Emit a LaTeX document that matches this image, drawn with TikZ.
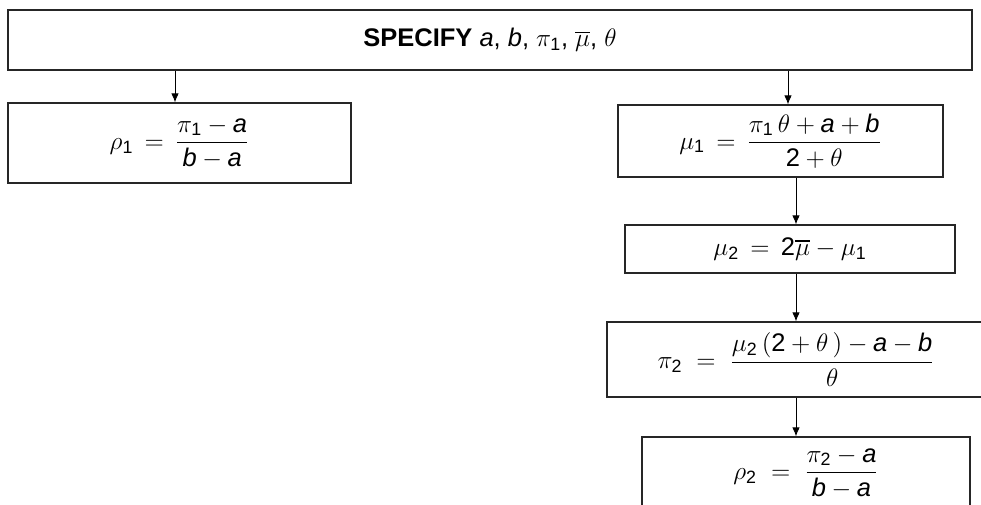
\documentclass[tikz,border=0pt]{standalone}
\usepackage{amsmath}
\usepackage{fontspec}
\setmainfont{Liberation Sans}
\usetikzlibrary{positioning}
\usetikzlibrary{arrows.meta}
\tikzset{
    stepbox/.style = {rectangle, draw=black!85, line width=0.7pt, inner sep=0pt, align=center},
    edgen/.style = {-{Latex[length=1.8mm,width=1.5mm]}, line width=0.5pt},
}
\newcommand{\va}{\text{\itshape a}}
\newcommand{\vb}{\text{\itshape b}}
\newcommand{\nm}[1]{\text{#1}}

\begin{document}
\begin{tikzpicture}[font=\fontsize{14.5}{17}\selectfont]
  \clip (0,0) rectangle (19.62,-10.1);

  % boxes
  \node[stepbox, minimum width=19.28cm, minimum height=1.2cm] at (9.8,-0.8) (spec)
    {\textbf{SPECIFY} $\va$, $\vb$, $\pi_{\nm{1}}$, $\overline{\mu}$, $\theta$};
  \node[stepbox, minimum width=6.86cm, minimum height=1.6cm] at (3.59,-2.86) (rho1)
    {$\displaystyle \rho_{\nm{1}} \,=\, \frac{\pi_{\nm{1}} - \va}{\vb - \va}$};
  \node[stepbox, minimum width=6.5cm, minimum height=1.44cm] at (15.61,-2.82) (mu1)
    {$\displaystyle \mu_{\nm{1}} \,=\, \frac{\pi_{\nm{1}}\,\theta + \va + \vb}{\nm{2} + \theta}$};
  \node[stepbox, minimum width=6.6cm, minimum height=0.96cm] at (15.8,-4.98) (mu2)
    {$\mu_{\nm{2}} \,=\, \nm{2}\overline{\mu} - \mu_{\nm{1}}$};
  \node[stepbox, minimum width=7.56cm, minimum height=1.5cm] at (15.92,-7.19) (pi2)
    {$\displaystyle \pi_{\nm{2}} \;=\; \frac{\mu_{\nm{2}}\,(\nm{2} + \theta\,) - \va - \vb}{\theta}$};
  \node[stepbox, minimum width=6.56cm, minimum height=1.44cm] at (16.12,-9.46) (rho2)
    {$\displaystyle \rho_{\nm{2}} \;=\; \frac{\pi_{\nm{2}} - \va}{\vb - \va}$};

  % arrow columns
  \coordinate (lc) at (3.5,0);
  \coordinate (rc) at (15.76,0);
  \coordinate (rd) at (15.92,0);

  \draw[edgen] (spec.south -| lc) -- (rho1.north -| lc);
  \draw[edgen] (spec.south -| rc) -- (mu1.north -| rc);
  \draw[edgen] (mu1.south -| rd) -- (mu2.north -| rd);
  \draw[edgen] (mu2.south -| rd) -- (pi2.north -| rd);
  \draw[edgen] (pi2.south -| rd) -- (rho2.north -| rd);
\end{tikzpicture}
\end{document}
